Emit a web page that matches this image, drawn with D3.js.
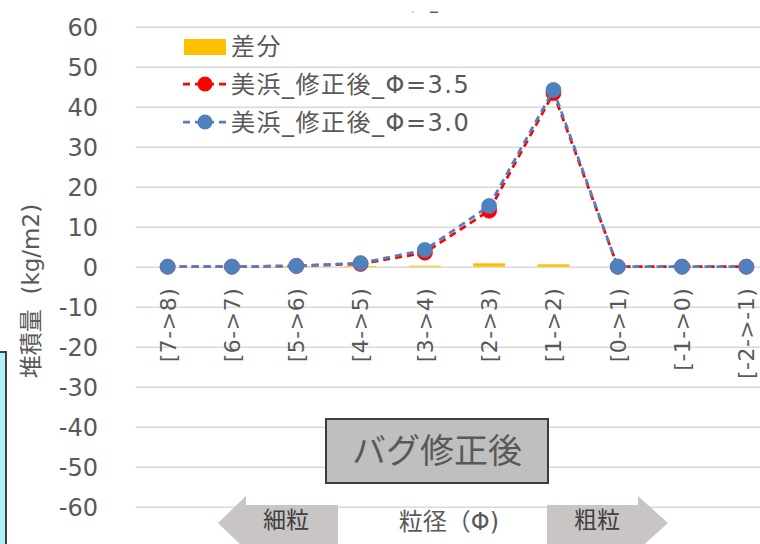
<!DOCTYPE html>
<html>
<head>
<meta charset="utf-8">
<script src="https://cdn.jsdelivr.net/npm/d3@7"></script>
<style>
body{margin:0;background:#fff;}
text{font-family:"DejaVu Sans","Noto Sans CJK JP",sans-serif;fill:#595959;}
</style>
</head>
<body>
<script>
// dane
var kategorie=["[7->8)","[6->7)","[5->6)","[4->5)","[3->4)","[2->3)","[1->2)","[0->1)","[-1->0)","[-2->-1)"];
var roznica=[0,0.1,0.15,0.2,0.25,0.85,0.6,0,0,0];
var seria35=[0,0,0.2,0.7,3.5,14.0,43.4,0,0,0];
var seria30=[0,0,0.2,0.9,4.2,15.2,44.2,0,0,0];
var yTicki=[60,50,40,30,20,10,0,-10,-20,-30,-40,-50,-60];
var nazwy=["差分","美浜_修正後_Φ=3.5","美浜_修正後_Φ=3.0"];

var W=760,H=544;
var svg=d3.select("body").append("svg").attr("width",W).attr("height",H);

var x=d3.scaleBand().domain(kategorie).range([135.5,778.5]);
var y=d3.scaleLinear().domain([-60,60]).range([506.7,26.7]);
var bw=x.bandwidth();
function cx(i){return x(kategorie[i])+bw/2;}

//lewy niebieski prostokat (ucięty)
svg.append("rect").attr("x",-4).attr("y",352).attr("width",10).attr("height",200)
	.style("fill","#b4f0f8").style("stroke","#404040").style("stroke-width",2);

//resztka tytulu u gory
svg.append("rect").attr("x",412).attr("y",11.5).attr("width",2).attr("height",1).style("fill","#9a9a9a");
svg.append("rect").attr("x",430).attr("y",11.5).attr("width",8).attr("height",1.5).style("fill","#595959");

//siatka
svg.append("g").attr("transform","translate(135.5,0)")
	.call(d3.axisLeft(y).tickValues(yTicki).tickSize(-(778.5-135.5)).tickFormat(""))
	.call(function(g){g.select(".domain").remove();
		g.selectAll("line").style("stroke","#d9d9d9").style("stroke-width",1.5);});

//os Y - etykiety
svg.append("g").attr("transform","translate(98,0)")
	.call(d3.axisLeft(y).tickValues(yTicki).tickSize(0).tickPadding(0)
		.tickFormat(function(d){return String(d);}))
	.call(function(g){g.select(".domain").remove();
		g.selectAll("text").style("font-size","24px").style("fill","#595959")
			.attr("font-family",null).attr("dy","0.36em");});

//os X - etykiety przy zerze
svg.append("g").attr("transform","translate(0,"+y(0)+")")
	.call(d3.axisBottom(x).tickSize(0).tickPadding(0))
	.call(function(g){g.select(".domain").remove();
		g.selectAll("text").attr("transform","rotate(-90)")
			.attr("x",-21).attr("y",0).attr("dy","0.36em")
			.style("text-anchor","end").style("font-size","22px").style("fill","#595959")
			.style("letter-spacing","0.5px").attr("font-family",null);});

//slupki roznicy
svg.append("g").selectAll("rect").data(roznica).enter().append("rect")
	.attr("x",function(d,i){return cx(i)-16;})
	.attr("width",32)
	.attr("y",function(d){return y(Math.max(d,0));})
	.attr("height",function(d){return Math.abs(y(d)-y(0));})
	.style("fill","#ffc000");

//linie
var linia=d3.line().x(function(d,i){return cx(i);}).y(function(d){return y(d);});
var serie=[{dane:seria35,kolor:"#ff0000"},{dane:seria30,kolor:"#4f81bd"}];
for(var s=0;s<serie.length;s++)
{
	svg.append("path").datum(serie[s].dane).attr("d",linia)
		.style("fill","none").style("stroke",serie[s].kolor)
		.style("stroke-width",2.75).style("stroke-dasharray","7,5");
	svg.append("g").selectAll("circle").data(serie[s].dane).enter().append("circle")
		.attr("cx",function(d,i){return cx(i);})
		.attr("cy",function(d){return y(d);})
		.attr("r",7.5)
		.style("fill",serie[s].kolor).style("stroke",serie[s].kolor).style("stroke-width",0.75);
}

//legenda
var leg=svg.append("g");
leg.append("rect").attr("x",184).attr("y",39).attr("width",42).attr("height",16).style("fill","#ffc000");
for(var k=0;k<2;k++)
{
	var ly=84+k*38;
	leg.append("line").attr("x1",183).attr("x2",227).attr("y1",ly).attr("y2",ly)
		.style("stroke",serie[k].kolor).style("stroke-width",2.75).style("stroke-dasharray","7,5");
	leg.append("circle").attr("cx",205).attr("cy",ly).attr("r",7.5).style("fill",serie[k].kolor);
}
leg.selectAll("text").data(nazwy).enter().append("text")
	.attr("x",231).attr("y",function(d,i){return 46+i*38;}).attr("dy","0.36em")
	.style("font-size","24px").style("letter-spacing","1.5px").text(function(d){return d;});

//tytul osi Y
svg.append("text").attr("transform","translate(31,291) rotate(-90)")
	.attr("dy","0.36em").style("text-anchor","middle").style("font-size","23px")
	.style("white-space","pre").text("堆積量  (kg/m2)");

//ramka "バグ修正後"
svg.append("rect").attr("x",326).attr("y",419).attr("width",222).attr("height",64)
	.style("fill","#bfbfbf").style("stroke","#403c3c").style("stroke-width",2);
svg.append("text").attr("x",437).attr("y",451).attr("dy","0.36em").style("text-anchor","middle")
	.style("font-size","34px").text("バグ修正後");

//strzalki
svg.append("polygon").attr("points","218,523 246,496 246,505 338,505 338,548 246,548 246,550")
	.style("fill","#c9c5c5");
svg.append("polygon").attr("points","668,523 638,496 638,505 547,505 547,548 638,548 638,550")
	.style("fill","#c9c5c5");
svg.append("text").attr("x",286).attr("y",520).attr("dy","0.36em").style("text-anchor","middle")
	.style("font-size","23px").style("fill","#404040").text("細粒");
svg.append("text").attr("x",597).attr("y",520).attr("dy","0.36em").style("text-anchor","middle")
	.style("font-size","23px").style("fill","#404040").text("粗粒");
svg.append("text").attr("x",449).attr("y",521).attr("dy","0.36em").style("text-anchor","middle")
	.style("font-size","24px").text("粒径（Φ)");
</script>
</body>
</html>
